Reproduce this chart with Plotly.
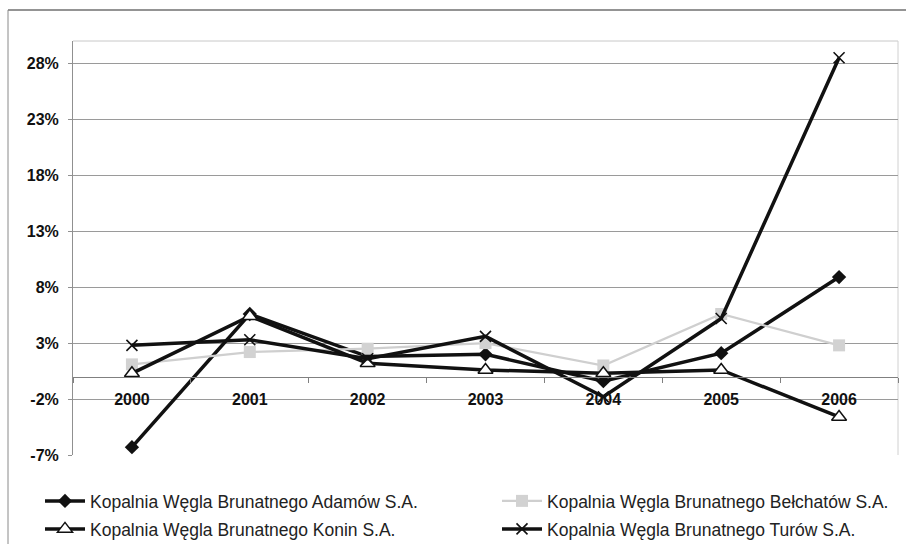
import plotly.graph_objects as go

# Annual change (%) per mine, 2000-2006
years = ["2000", "2001", "2002", "2003", "2004", "2005", "2006"]
adamow = [-6.3, 5.6, 1.8, 2.0, -0.4, 2.1, 8.9]
belchatow = [1.1, 2.2, 2.5, 3.0, 1.0, 5.6, 2.8]
konin = [0.3, 5.4, 1.2, 0.6, 0.3, 0.6, -3.6]
turow = [2.8, 3.3, 1.6, 3.6, -1.8, 5.2, 28.5]

names = [
    "Kopalnia Węgla Brunatnego Adamów S.A.",
    "Kopalnia Węgla Brunatnego Bełchatów S.A.",
    "Kopalnia Węgla Brunatnego Konin S.A.",
    "Kopalnia Węgla Brunatnego Turów S.A.",
]

y_ticks = [-7, -2, 3, 8, 13, 18, 23, 28]
y_min, y_max = -7, 30

W, H = 906, 544
ML, MR, MT, MB = 73, 8, 41, 89
PW, PH = W - ML - MR, H - MT - MB

FONT = "Liberation Sans, Arial, sans-serif"

fig = go.Figure()

fig.add_trace(go.Scatter(
    x=years, y=adamow, name=names[0], mode="lines+markers",
    legend="legend",
    line=dict(color="#111111", width=3.5),
    marker=dict(symbol="diamond", size=11, color="#111111"),
))
fig.add_trace(go.Scatter(
    x=years, y=belchatow, name=names[1], mode="lines+markers",
    legend="legend2",
    line=dict(color="#cfcfcf", width=2.2),
    marker=dict(symbol="square", size=12, color="#d2d2d2"),
))
fig.add_trace(go.Scatter(
    x=years, y=konin, name=names[2], mode="lines+markers",
    legend="legend3",
    line=dict(color="#111111", width=3.5),
    marker=dict(symbol="triangle-up", size=13, color="white",
                line=dict(color="#111111", width=1.5)),
))
fig.add_trace(go.Scatter(
    x=years, y=turow, name=names[3], mode="lines+markers",
    legend="legend4",
    line=dict(color="#111111", width=3.5),
    marker=dict(symbol="x-thin", size=11, color="#111111",
                line=dict(color="#111111", width=1.6)),
))

zero_pos = (0 - y_min) / (y_max - y_min)

# legend laid out as a 2x2 grid of single-entry legends
legend_style = dict(
    orientation="h",
    xref="container", yref="container",
    xanchor="left", yanchor="top",
    itemwidth=40,
    font=dict(family=FONT, size=17.5, color="#222222"),
    bgcolor="rgba(0,0,0,0)",
)
col_x = [40, 497]
row_top = [483, 511]

fig.update_layout(
    width=W, height=H,
    margin=dict(l=ML, r=MR, t=MT, b=MB, pad=0, autoexpand=False),
    paper_bgcolor="white", plot_bgcolor="white",
    font=dict(family=FONT, color="#111111"),
    showlegend=True,
    legend=dict(legend_style, x=col_x[0] / W, y=1 - row_top[0] / H),
    legend2=dict(legend_style, x=col_x[1] / W, y=1 - row_top[0] / H),
    legend3=dict(legend_style, x=col_x[0] / W, y=1 - row_top[1] / H),
    legend4=dict(legend_style, x=col_x[1] / W, y=1 - row_top[1] / H),
    xaxis=dict(
        type="category",
        range=[-0.5, 6.5],
        anchor="free", position=zero_pos,
        showline=True, linecolor="#808080", linewidth=1,
        showgrid=False, zeroline=False,
        ticks="outside", ticklen=5, tickcolor="#808080",
        tickson="boundaries",
        ticklabelstandoff=8,
        tickfont=dict(family=FONT, size=16, weight="bold", color="#111111"),
    ),
    yaxis=dict(
        range=[y_min, y_max],
        tickvals=y_ticks,
        ticktext=[f"{v}%" for v in y_ticks],
        showgrid=True, gridcolor="#9a9a9a", gridwidth=1,
        zeroline=False,
        showline=True, linecolor="#909090", linewidth=1,
        ticks="outside", ticklen=4, tickcolor="#909090",
        ticklabelstandoff=6,
        tickfont=dict(family=FONT, size=16, weight="bold", color="#111111"),
    ),
    shapes=[
        # plot-area frame (top and right edges)
        dict(type="line", xref="paper", yref="paper", x0=0, x1=1, y0=1, y1=1,
             line=dict(color="#c8c8c8", width=1), layer="below"),
        dict(type="line", xref="paper", yref="paper", x0=1, x1=1, y0=0, y1=1,
             line=dict(color="#d0d0d0", width=1), layer="below"),
        # outer chart border
        dict(type="line", xref="paper", yref="paper",
             x0=(8 - ML) / PW, x1=(W + 5 - ML) / PW,
             y0=1 + (MT - 10) / PH, y1=1 + (MT - 10) / PH,
             line=dict(color="#2a2a2a", width=1.2)),
        dict(type="line", xref="paper", yref="paper",
             x0=(8 - ML) / PW, x1=(8 - ML) / PW,
             y0=1 + (MT - 10) / PH, y1=-(H + 5 - MT - PH) / PH,
             line=dict(color="#8a8a8a", width=1)),
    ],
)

fig.write_html("out.html")
